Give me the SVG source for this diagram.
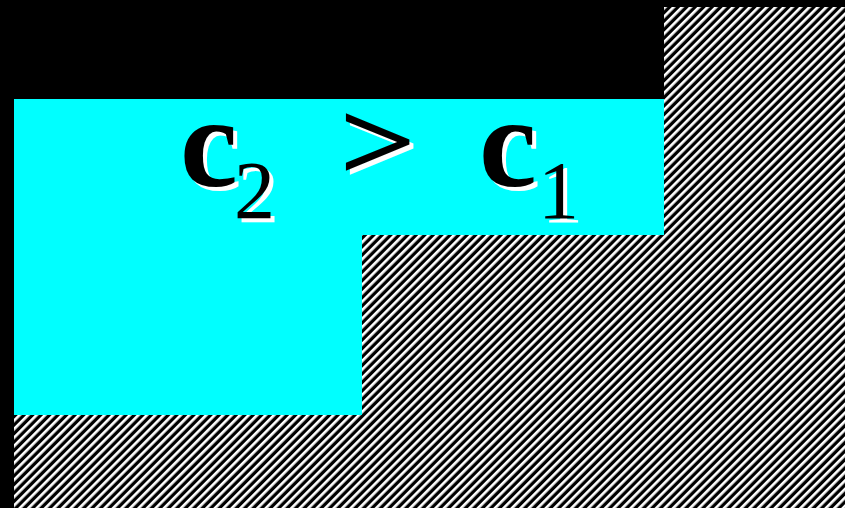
<svg xmlns="http://www.w3.org/2000/svg" width="845" height="508" viewBox="0 0 845 508">
<style>
.t{font-family:"Liberation Serif","Times New Roman",serif;}
.b{font-weight:bold;}
.sh{fill:#fff;}
.fg{fill:#000;}
</style>
<defs>
<pattern id="hatch" patternUnits="userSpaceOnUse" width="6" height="10" patternTransform="rotate(45)">
<rect width="6" height="10" fill="#000"/>
<rect width="2.7" height="10" fill="#fff"/>
</pattern>
</defs>
<rect width="845" height="508" fill="#000"/>
<path d="M14 99H665V235H362V415H14Z" fill="#00ffff"/>
<path d="M664 7H845V508H14V415H362V235H664Z" fill="url(#hatch)"/>
<g id="label">
<g class="t sh" transform="translate(4,4)">
<text class="b" x="180" y="186" font-size="130">c</text>
<text x="234" y="218" font-size="82">2</text>
<text class="b" transform="translate(339,180) scale(1.05,0.88)" font-size="130">&gt;</text>
<text class="b" x="479" y="186" font-size="130">c</text>
<text x="538" y="218" font-size="82">1</text>
</g>
<g class="t fg">
<text class="b" x="180" y="186" font-size="130">c</text>
<text x="234" y="218" font-size="82">2</text>
<text class="b" transform="translate(339,180) scale(1.05,0.88)" font-size="130">&gt;</text>
<text class="b" x="479" y="186" font-size="130">c</text>
<text x="538" y="218" font-size="82">1</text>
</g>
</g>
</svg>
